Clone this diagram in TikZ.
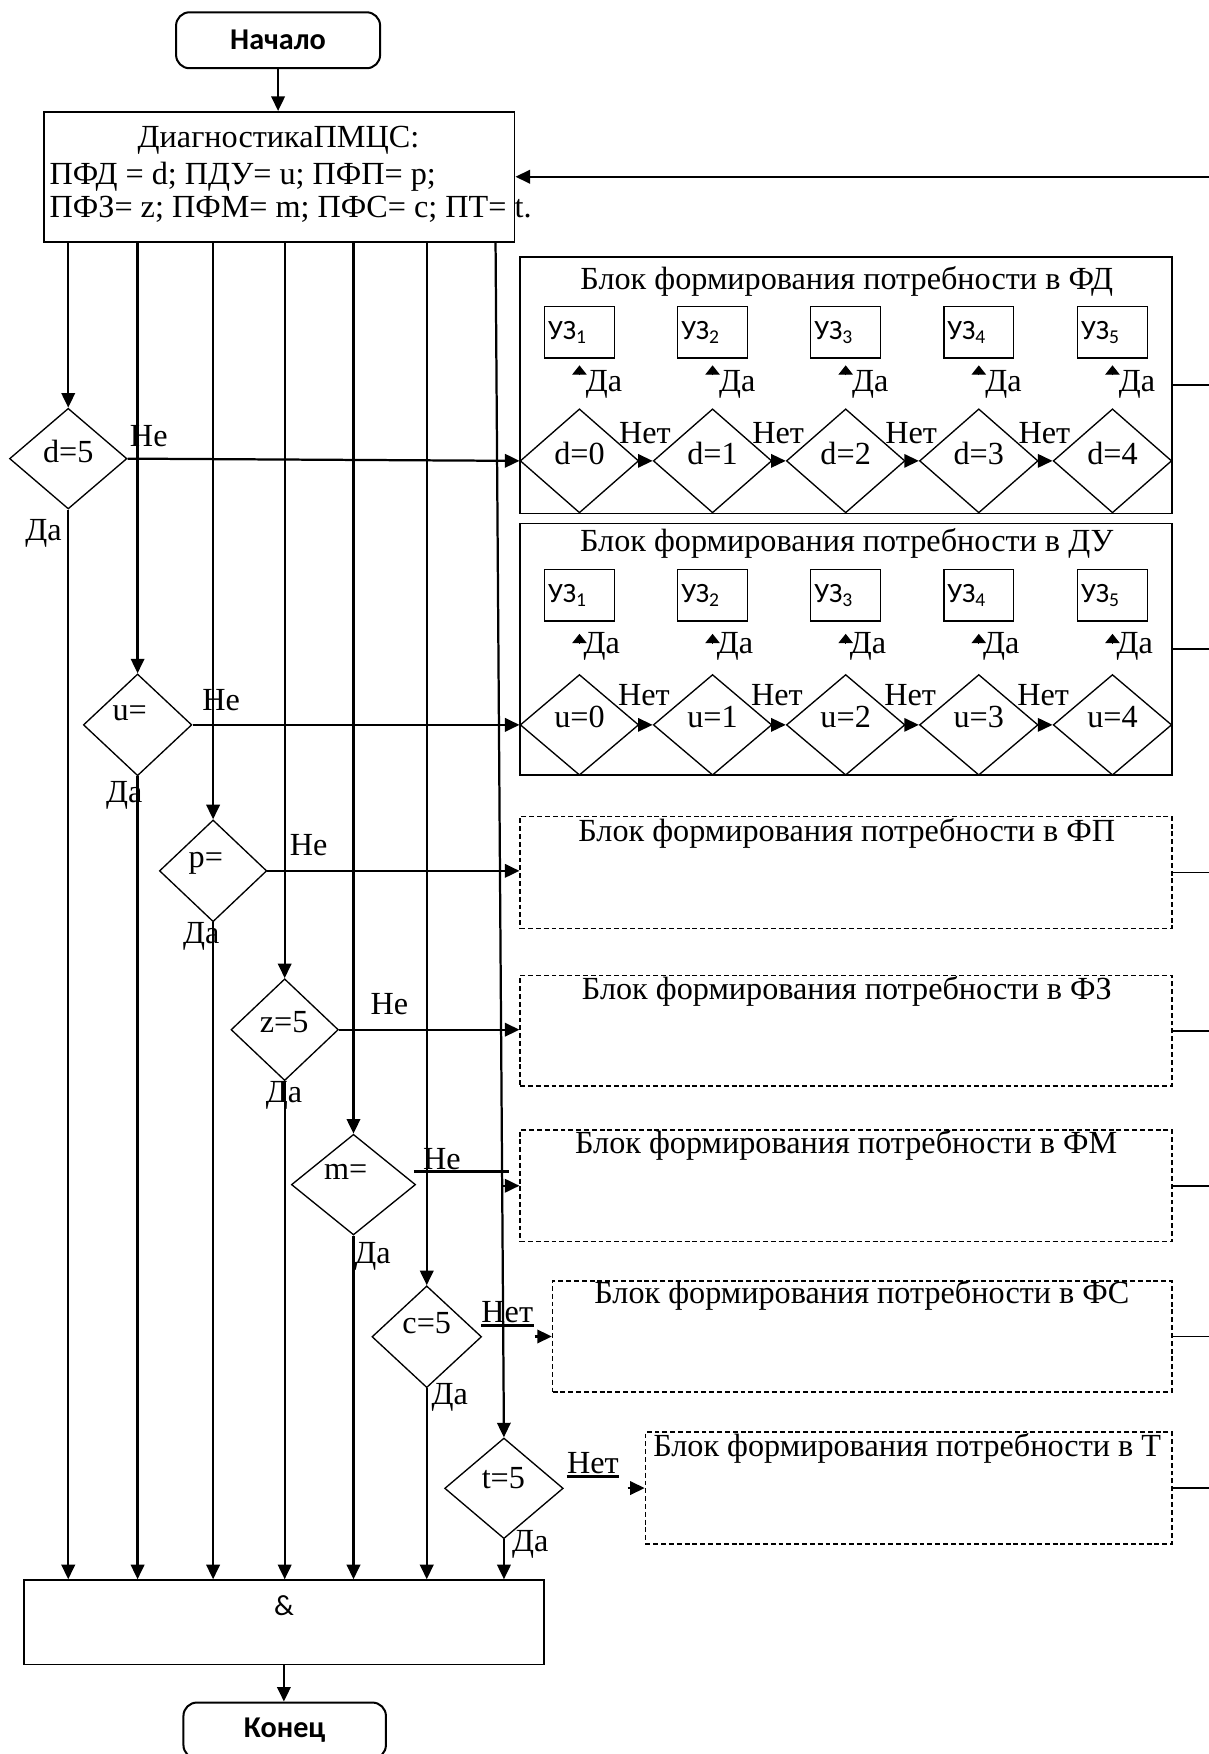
\documentclass[tikz,border=0pt]{standalone}
\usepackage{fontspec}
\setmainfont{Liberation Serif}
\newfontfamily\calib{Carlito}
\usetikzlibrary{arrows.meta,shapes.geometric,calc}
\begin{document}
\begin{tikzpicture}[x=0.5pt,y=-0.5pt,
  tx/.style={font=\fontsize{14.4}{16}\selectfont, inner sep=0pt},
  arr/.style={line width=1pt,-{Triangle[length=6.5pt,width=6pt]}},
  sarr/.style={line width=0.8pt,-{Triangle[length=6.5pt,width=6pt]}},
  uzarr/.style={line width=0.6pt,-{Triangle[length=4.2pt,width=6.5pt]}},
  dia/.style={draw, diamond, line width=0.6pt, inner sep=0pt},
  blk/.style={draw, line width=0.8pt, rectangle, inner sep=0pt},
  dblk/.style={draw, line width=0.7pt, dash pattern=on 2.2pt off 1.3pt, inner sep=0pt},
  uz/.style={draw, line width=0.6pt, minimum width=31.25pt, minimum height=23pt, text width=28pt, align=left, inner xsep=1.6pt, inner ysep=0pt, font=\calib\fontsize{12.5}{13}\selectfont},
  term/.style={draw, rounded corners=6pt, line width=0.9pt, inner sep=0pt, font=\calib\bfseries\fontsize{13.5}{15}\selectfont},
  stub/.style={line width=0.8pt},
  thk/.style={line width=1.4pt},
]
\useasboundingbox (0,0) rectangle (1080,1568);
\coordinate (rEdge) at (1085,0);

% start / diag
\node[term, minimum width=91.2pt, minimum height=25pt] (start) at (248.6,36) {Начало};
\node[blk, minimum width=210.4pt, minimum height=58pt] (diag) at (249.6,158) {};
\node[tx] (dl1) at (249,125) {ДиагностикаПМЦС:};
\node[tx, anchor=west] (dl2) at (44,158) {ПФД = d; ПДУ= u; ПФП= p;};
\node[tx, anchor=west] (dl3) at (44,187) {ПФЗ= z; ПФМ= m; ПФС= c; ПТ= t.};
\draw[arr] (start.south) -- (start.south |- diag.north);
\draw[arr] (diag.east -| rEdge) -- (diag.east);

% left decision diamonds
\node[dia, minimum width=52.5pt, minimum height=45pt] (qd) at (61,410) {};
\node[tx] (qdt) at (61,404) {d=5};
\node[dia, minimum width=48.5pt, minimum height=45.5pt] (qu) at (123,648) {};
\node[tx] (qut) at (116,638) {u=};
\node[dia, minimum width=48pt, minimum height=45.5pt] (qp) at (190.5,778.5) {};
\node[tx] (qpt) at (184,772) {p=};
\node[dia, minimum width=48pt, minimum height=45.5pt] (qz) at (254.5,920.5) {};
\node[tx] (qzt) at (254,913.5) {z=5};
\node[dia, minimum width=55.5pt, minimum height=45pt] (qm) at (316,1059) {};
\node[tx] (qmt) at (309,1047.5) {m=};
\node[dia, minimum width=49pt, minimum height=45.5pt] (qc) at (381.5,1195) {};
\node[tx] (qct) at (381.5,1183) {c=5};
\node[dia, minimum width=53pt, minimum height=45pt] (qt) at (450.5,1330.5) {};
\node[tx] (qtt) at (450,1321.5) {t=5};

% AND box and end
\node[blk, minimum width=232.2pt, minimum height=37.7pt] (andb) at (253.8,1450.3) {};
\node[inner sep=0pt, font=\calib\fontsize{13}{14}\selectfont] (andt) at (254,1435) {\&};
\node[term, minimum width=90.5pt, minimum height=25pt] (finish) at (254.5,1547) {Конец};
\draw[arr] (andb.south) -- (andb.south |- finish.north);

% vertical connectors
\coordinate (tcol) at (443,0);
\foreach \q in {qd,qu,qp,qz,qm,qc} {
  \draw[arr] (diag.south -| \q) -- (\q.north);
  \draw[arr] (\q.south) -- (\q.south |- andb.north);
}
\draw[arr] (diag.south -| tcol) -- (qt.north);
\draw[arr] (qt.south) -- (qt.south |- andb.north);

% yes/no labels of left diamonds
\node[tx] (ld1) at (133,390) {Не};
\node[tx] (ld2) at (39,477) {Да};
\node[tx] (lu1) at (197.6,626) {Не};
\node[tx] (lu2) at (111,711) {Да};
\node[tx] (lp1) at (276,755.5) {Не};
\node[tx] (lp2) at (180,837) {Да};
\node[tx] (lz1) at (348,897.6) {Не};
\node[tx] (lz2) at (254,979) {Да};
\node[tx] (lm1) at (395,1036) {Не};
\node[tx] (lm2) at (333,1123) {Да};
\node[tx] (lc1) at (453.5,1173) {Нет};
\node[tx] (lc2) at (402,1249) {Да};
\node[tx] (lt1) at (530,1308) {Нет};
\node[tx] (lt2) at (474,1380.5) {Да};

% block FD
\node[blk, minimum width=291.5pt, minimum height=114.75pt] (bFD) at (756.5,344.25) {};
\node[tx] (tFD) at (757,252) {Блок формирования потребности в ФД};
\foreach \i/\x/\n in {0/518/1,1/637/2,2/756/3,3/875/4,4/994.5/5} {
  \node[uz] (ua\i) at (\x,297) {УЗ\textsubscript{\n}};
  \node[dia, minimum width=53pt, minimum height=46.5pt] (dd\i) at (\x,412) {};
  \node[tx] at (\x,405) {d=\i};
  \draw[uzarr] ($(ua\i.south)+(0,15)$) -- ($(ua\i.south)+(0,6)$);
  \node[tx] at ($(ua\i.south)+(22,23)$) {Да};
}
\foreach \i/\j in {0/1,1/2,2/3,3/4} {
  \draw[sarr] (dd\i.east) -- (dd\j.west);
  \node[tx] at ($(dd\i.east)+(5,-25)$) {Нет};
}
\draw[arr] (qd.east) -- (dd0.west);

% block DU
\node[blk, minimum width=291.5pt, minimum height=112.5pt] (bDU) at (756.5,580.5) {};
\node[tx] (tDU) at (757,486) {Блок формирования потребности в ДУ};
\foreach \i/\x/\n in {0/518/1,1/637/2,2/756/3,3/875/4,4/994.5/5} {
  \node[uz] (ub\i) at (\x,532) {УЗ\textsubscript{\n}};
  \node[dia, minimum width=53pt, minimum height=45pt] (du\i) at (\x,648) {};
  \node[tx] at (\x,641) {u=\i};
  \draw[uzarr] ($(ub\i.south)+(0,19)$) -- ($(ub\i.south)+(0,11)$);
  \node[tx] at ($(ub\i.south)+(20,22)$) {Да};
}
\foreach \i/\j in {0/1,1/2,2/3,3/4} {
  \draw[sarr] (du\i.east) -- (du\j.west);
  \node[tx] at ($(du\i.east)+(4,-27)$) {Нет};
}
\draw[arr] (qu.east) -- (du0.west);

% dashed blocks
\node[dblk, minimum width=291.35pt, minimum height=50pt] (bFP) at (756.4,780) {};
\node[tx] (tFP) at (757,745) {Блок формирования потребности в ФП};
\node[dblk, minimum width=291.35pt, minimum height=49.5pt] (bFZ) at (756.4,921.5) {};
\node[tx] (tFZ) at (757,886.6) {Блок формирования потребности в ФЗ};
\node[dblk, minimum width=291.35pt, minimum height=50pt] (bFM) at (756.4,1060) {};
\node[tx] (tFM) at (756.5,1023.7) {Блок формирования потребности в ФМ};
\node[dblk, minimum width=276.75pt, minimum height=49.75pt] (bFS) at (770.75,1194.75) {};
\node[tx] (tFS) at (770.5,1158) {Блок формирования потребности в ФС};
\node[dblk, minimum width=235.25pt, minimum height=50.25pt] (bT) at (812.25,1330.25) {};
\node[tx] (tT) at (811,1294.7) {Блок формирования потребности в Т};

\draw[arr] (qp.east) -- (qp.east -| bFP.west);
\draw[arr] (qz.east) -- (qz.east -| bFZ.west);

% m= branch
\coordinate (mA) at (370,1047);
\coordinate (mB) at (455,1047);
\draw[thk] (mA) -- (mB);
\coordinate (mtip) at (449,1060);
\draw[arr] (mtip) -- (bFM.west);

% c=5 branch
\draw[thk] ($(lc1.south west)+(0,2)$) -- ($(lc1.south east)+(0,2)$);
\coordinate (ctip) at (478,1194.75);
\draw[arr] (ctip) -- (bFS.west);

% t=5 branch
\draw[thk] ($(lt1.south west)+(0,2)$) -- ($(lt1.south east)+(0,2)$);
\coordinate (ttip) at (561,1330.25);
\draw[arr] (ttip) -- (bT.west);

% right stubs
\foreach \b in {bFD,bDU,bFP,bFZ,bFM,bFS,bT} {
  \draw[stub] (\b.east) -- (\b.east -| rEdge);
}
\end{tikzpicture}
\end{document}
